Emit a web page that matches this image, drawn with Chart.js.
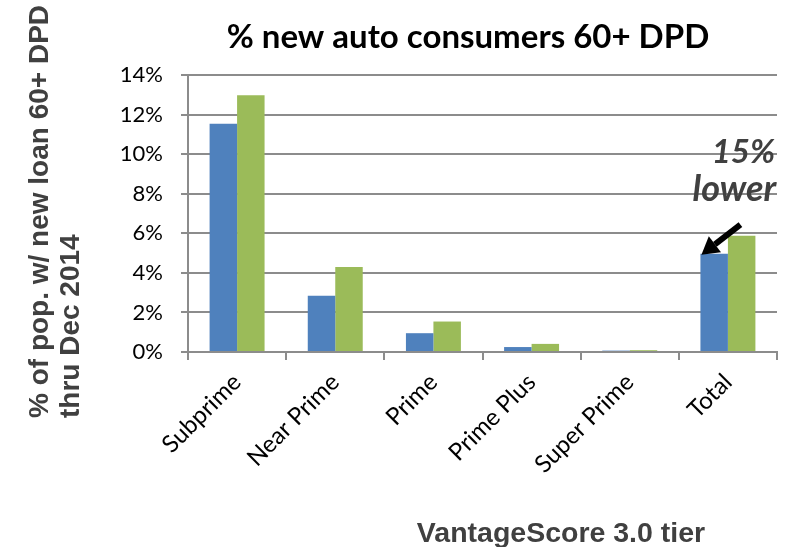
<!DOCTYPE html>
<html>
<head>
<meta charset="utf-8">
<script src="https://cdn.jsdelivr.net/npm/chart.js@4/dist/chart.umd.min.js"></script>
<style>
  html, body { margin: 0; padding: 0; background: #ffffff; }
  #wrap { width: 796px; height: 547px; position: relative; }
</style>
</head>
<body>
<div id="wrap"><canvas id="c" width="796" height="547"></canvas></div>
<script>
// ---- data ----
const categories = ["Subprime", "Near Prime", "Prime", "Prime Plus", "Super Prime", "Total"];
const seriesBlue = [11.53, 2.84, 0.95, 0.25, 0.07, 4.97];
const seriesGreen = [12.98, 4.29, 1.54, 0.41, 0.09, 5.88];
const yTickValues = [0, 2, 4, 6, 8, 10, 12, 14];
const chartTitle = "% new auto consumers 60+ DPD";
const yTitleLines = ["% of pop. w/ new loan 60+ DPD", "thru Dec 2014"];
const xTitle = "VantageScore 3.0 tier";
const annotationLines = ["15%", "lower"];

const gridColor = "#8c8c8c";

const textPlugin = {
  id: "textPlugin",
  afterDraw(chart) {
    const ctx = chart.ctx;
    // chart title
    ctx.save();
    ctx.fillStyle = "#000000";
    ctx.font = "bold 33px Lato";
    ctx.textAlign = "center";
    ctx.textBaseline = "alphabetic";
    ctx.fillText(chartTitle, 468, 48);
    ctx.restore();

    // y-axis title (two lines, rotated)
    const yFont = "bold 28px 'Liberation Sans', Arial, sans-serif";
    [[48, yTitleLines[0]], [79, yTitleLines[1]]].forEach(([bx, txt]) => {
      ctx.save();
      ctx.fillStyle = "#404040";
      ctx.font = yFont;
      ctx.textAlign = "left";
      ctx.textBaseline = "alphabetic";
      ctx.translate(bx, 418);
      ctx.rotate(-Math.PI / 2);
      ctx.fillText(txt, 0, 0);
      ctx.restore();
    });

    // x-axis title
    ctx.save();
    ctx.fillStyle = "#404040";
    ctx.font = "bold 28.5px 'Liberation Sans', Arial, sans-serif";
    ctx.textAlign = "center";
    ctx.textBaseline = "alphabetic";
    ctx.fillText(xTitle, 561, 542);
    ctx.restore();

    // annotation + arrow pointing at Total blue bar
    const meta = chart.getDatasetMeta(0);
    const bar = meta.data[categories.length - 1];
    const tipX = bar.x - bar.width / 2 + 1;
    const tipY = bar.y + 1;
    ctx.save();
    ctx.fillStyle = "#404040";
    ctx.textAlign = "center";
    ctx.textBaseline = "alphabetic";
    ctx.font = "italic bold 33px Lato";
    ctx.fillText(annotationLines[0], tipX + 42, tipY - 92);
    ctx.font = "italic bold 36px Lato";
    ctx.fillText(annotationLines[1], tipX + 33, tipY - 54);
    // arrow
    const tailX = tipX + 39, tailY = tipY - 30;
    const ang = Math.atan2(tipY - tailY, tipX - tailX);
    const headLen = 17, headW = 10;
    const baseX = tipX - headLen * Math.cos(ang), baseY = tipY - headLen * Math.sin(ang);
    ctx.strokeStyle = "#000000";
    ctx.lineWidth = 6;
    ctx.beginPath();
    ctx.moveTo(tailX, tailY);
    ctx.lineTo(baseX, baseY);
    ctx.stroke();
    ctx.fillStyle = "#000000";
    ctx.beginPath();
    ctx.moveTo(tipX, tipY);
    ctx.lineTo(baseX + headW * Math.sin(ang), baseY - headW * Math.cos(ang));
    ctx.lineTo(baseX - headW * Math.sin(ang), baseY + headW * Math.cos(ang));
    ctx.closePath();
    ctx.fill();
    ctx.restore();
  }
};

new Chart(document.getElementById("c"), {
  type: "bar",
  data: {
    labels: categories,
    datasets: [
      { label: "Series 1", data: seriesBlue, backgroundColor: "#4F81BD", borderWidth: 0 },
      { label: "Series 2", data: seriesGreen, backgroundColor: "#9BBB59", borderWidth: 0 }
    ]
  },
  options: {
    responsive: false,
    animation: false,
    devicePixelRatio: 1,
    layout: { padding: { left: 0, right: 19, top: 75, bottom: 0 } },
    plugins: {
      legend: { display: false },
      title: { display: false },
      tooltip: { enabled: false }
    },
    datasets: { bar: { categoryPercentage: 0.56, barPercentage: 1.0 } },
    scales: {
      x: {
        afterFit(scale) { scale.height = 195; },
        grid: { display: true, drawOnChartArea: false, drawTicks: true, tickLength: 8, color: gridColor, lineWidth: 2, offset: true },
        border: { display: true, color: gridColor, width: 2 },
        ticks: {
          minRotation: 45, maxRotation: 45, autoSkip: false,
          color: "#000000", font: { family: "Lato", size: 24 }, padding: 8
        }
      },
      y: {
        min: 0, max: 14,
        afterFit(scale) { scale.width = 188; },
        afterBuildTicks(scale) { scale.ticks = yTickValues.map(v => ({ value: v })); },
        grid: { color: gridColor, lineWidth: 2, drawTicks: true, tickLength: 7 },
        border: { display: true, color: gridColor, width: 2 },
        ticks: {
          color: "#000000", font: { family: "Lato", size: 22 }, padding: 18,
          callback: (v) => v + "%"
        }
      }
    }
  },
  plugins: [textPlugin]
});
</script>
</body>
</html>
